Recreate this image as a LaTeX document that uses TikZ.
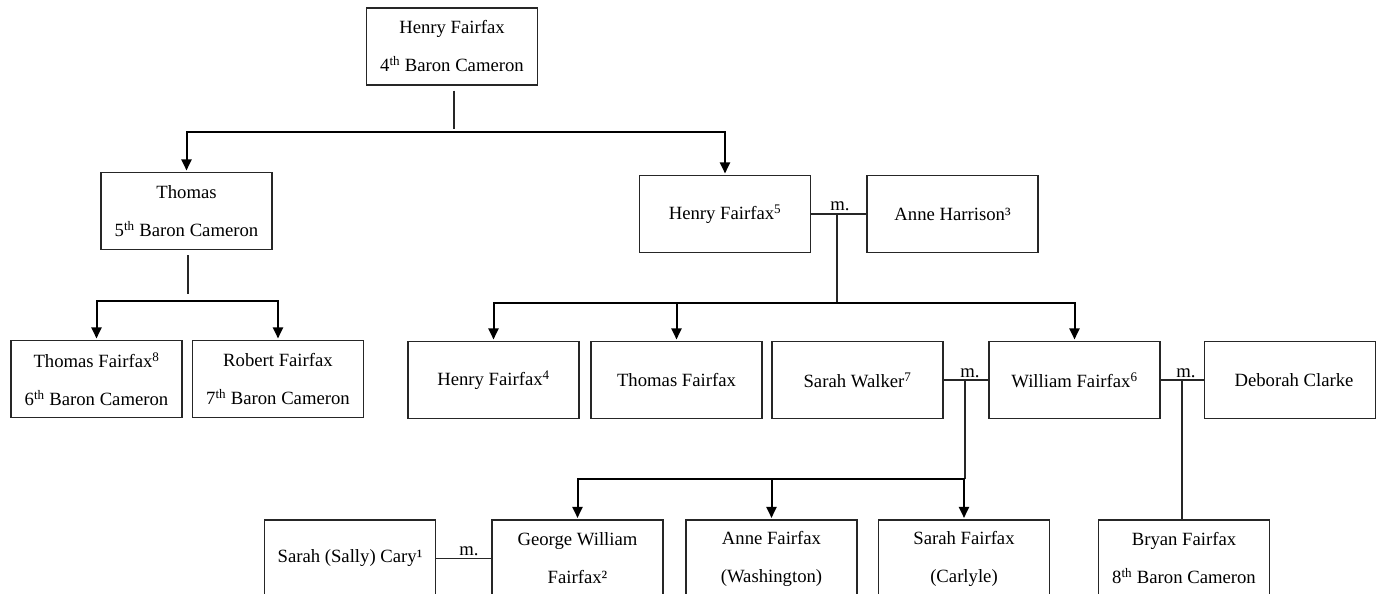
\documentclass[tikz,border=0pt]{standalone}
\usepackage{fontspec}
\setmainfont{Liberation Serif}
\usetikzlibrary{arrows.meta,calc}
\begin{document}
\begin{tikzpicture}[x=1pt,y=-1pt,
  person/.style={draw=black!85,line width=1.1pt,minimum width=171pt,minimum height=77pt,inner sep=0pt,align=center,font=\fontsize{18.7pt}{38pt}\selectfont},
  desc/.style={line width=2pt,-{Triangle[length=11pt,width=10pt]},shorten >=1.5pt},
  link/.style={line width=1.1pt,draw=black!85},
  mlabel/.style={font=\fontsize{18.7pt}{22pt}\selectfont,inner sep=0pt,anchor=base}]
\useasboundingbox (0,0) rectangle (1377,594);
\clip (0,0) rectangle (1377,594);

% people
\node[person] (hf4) at (452,46.5) {Henry Fairfax\\4\textsuperscript{th} Baron Cameron};
\node[person] (t5) at (186.5,211) {Thomas\\5\textsuperscript{th} Baron Cameron};
\node[person] (h5) at (725,214) {Henry Fairfax\textsuperscript{5}};
\node[person] (ah) at (952.5,214) {Anne Harrison³};
\node[person] (tf6) at (96.5,379) {Thomas Fairfax\textsuperscript{8}\\6\textsuperscript{th} Baron Cameron};
\node[person] (rf7) at (278,379) {Robert Fairfax\\7\textsuperscript{th} Baron Cameron};
\node[person] (h4) at (493.5,380) {Henry Fairfax\textsuperscript{4}};
\node[person] (tf) at (676.5,380) {Thomas Fairfax};
\node[person] (sw) at (857.5,380) {Sarah Walker\textsuperscript{7}};
\node[person] (wf) at (1074.5,380) {William Fairfax\textsuperscript{6}};
\node[person] (dc) at (1290,380) {\hspace*{8pt}Deborah Clarke};
\node[person] (sc) at (350,558.5) {Sarah (Sally) Cary¹};
\node[person] (gw) at (577.5,558.5) {George William\\Fairfax²};
\node[person] (af) at (771.5,558.5) {Anne Fairfax\\(Washington)};
\node[person] (sf) at (964,558.5) {Sarah Fairfax\\(Carlyle)};
\node[person] (bf) at (1184,558.5) {Bryan Fairfax\\8\textsuperscript{th} Baron Cameron};

% Henry Fairfax, 4th Baron -> children
\coordinate (j1) at (454,132);
\draw[link] ($(hf4.south)+(2,5)$) -- ++(0,38);
\draw[desc] (j1) -| (t5.north);
\draw[desc] (j1) -| (h5.north);

% Thomas, 5th Baron -> children
\coordinate (j2) at (188,301);
\draw[link] ($(t5.south)+(1.5,5)$) -- ++(0,39);
\draw[desc] (j2) -| (tf6.north);
\draw[desc] (j2) -| (rf7.north);

% Henry Fairfax m. Anne Harrison
\draw[link] (h5.east) -- (ah.west);
\node[mlabel] (ml1) at (840,210) {m.};
\coordinate (m1) at (837,214);
\coordinate (j3) at (837,303);
\draw[link] (m1) -- (j3);
\draw[desc] (j3) -| (h4.north);
\draw[desc] (j3) -| (tf.north);
\draw[desc] (j3) -| (wf.north);

% Sarah Walker m. William Fairfax
\draw[link] (sw.east) -- (wf.west);
\node[mlabel] (ml2) at (970,377) {m.};
\coordinate (m2) at (965,380);
\coordinate (j4) at (965,479);
\draw[link] (m2) -- (j4);
\draw[desc] (j4) -| (gw.north);
\draw[desc] (j4) -| (af.north);
\draw[desc] (j4) -| (sf.north);

% William Fairfax m. Deborah Clarke
\draw[link] (wf.east) -- (dc.west);
\node[mlabel] (ml3) at (1186,377) {m.};
\coordinate (m3) at (1182,380);
\draw[link] (m3) -- (m3 |- bf.north);

% Sally Cary m. George William Fairfax
\draw[link] (sc.east) -- (gw.west);
\node[mlabel] (ml4) at (469,555) {m.};
\end{tikzpicture}
\end{document}
